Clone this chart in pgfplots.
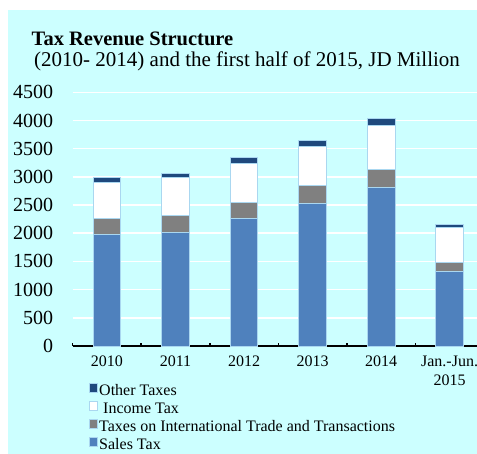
\documentclass[border=0pt]{standalone}
\usepackage{fontspec}
\setmainfont{Liberation Serif}
\usepackage{pgfplots}
\pgfplotsset{compat=1.18}

\definecolor{bgcyan}{RGB}{204,255,255}
\definecolor{salesblue}{RGB}{79,129,189}
\definecolor{tradegray}{RGB}{128,128,128}
\definecolor{otherblue}{RGB}{31,73,125}
\definecolor{baredge}{RGB}{170,215,240}

\begin{document}
\begin{tikzpicture}
  % page frame and background
  \useasboundingbox (0bp,0bp) rectangle (477bp,-454bp);
  \fill[white] (0bp,0bp) rectangle (477bp,-454bp);
  \fill[bgcyan] (8bp,-10bp) rectangle (477bp,-454bp);

  \node[anchor=base west, inner sep=0pt, font=\fontsize{20.5bp}{24bp}\selectfont\bfseries]
    at (31.5bp,-45bp) {Tax Revenue Structure};
  \node[anchor=base west, inner sep=0pt, font=\fontsize{21bp}{24bp}\selectfont]
    at (34bp,-66.5bp) {(2010- 2014) and the first half of 2015, JD Million};

  \begin{axis}[
      at={(72.7bp,-346bp)}, anchor=south west,
      scale only axis, clip=false,
      width=404.3bp, height=253.7bp,
      ybar stacked, bar width=27.7bp,
      xmin=-0.5, xmax=5.4,
      ymin=0, ymax=4500,
      ytick={0,500,...,4500},
      xtick={0,...,5},
      xticklabels={2010,2011,2012,2013,2014,{Jan.-Jun.\\2015}},
      minor xtick={-0.5,0.5,1.5,2.5,3.5,4.5},
      major tick length=0pt,
      minor tick length=3bp,
      minor x tick style={black, line width=1.5bp},
      ymajorgrids,
      major grid style={white, line width=1.5bp},
      axis x line*=bottom, axis y line*=left,
      separate axis lines,
      x axis line style={black, line width=2bp},
      y axis line style={draw=none},
      /pgf/number format/assume math mode=true,
      /pgf/number format/1000 sep={},
      yticklabel style={font=\fontsize{20bp}{24bp}\selectfont, anchor=east, inner sep=0pt, xshift=-19.4bp},
      xticklabel style={font=\fontsize{16bp}{19bp}\selectfont, align=center, anchor=north, inner sep=0pt, yshift=-10bp},
      legend style={at={(0.0386,-0.145)}, anchor=north west, draw=none, fill=none,
        font=\fontsize{16bp}{19bp}\selectfont, inner sep=0pt, row sep=2bp,
        nodes={inner sep=1.5bp, text height=11bp, text depth=2bp}},
      legend cell align=left,
      reverse legend,
      legend image code/.code={\fill[#1] (0bp,-1.2bp) rectangle (8.4bp,7.2bp);},
      every axis plot/.append style={draw=baredge, line width=0.8bp},
    ]
    \addplot[fill=salesblue] coordinates {(0,1980) (1,2015) (2,2258) (3,2523) (4,2807) (5,1324)};
    \addlegendentry{Sales Tax}
    \addplot[fill=tradegray] coordinates {(0,284) (1,295) (2,290) (3,326) (4,326) (5,165)};
    \addlegendentry{Taxes on International Trade and Transactions}
    \addplot[fill=white] coordinates {(0,631) (1,675) (2,691) (3,691) (4,773) (5,608)};
    \addlegendentry{\ Income Tax}
    \addplot[fill=otherblue] coordinates {(0,90) (1,71) (2,106) (3,107) (4,131) (5,54)};
    \addlegendentry{Other Taxes}
    \draw[black, line width=2bp] (axis cs:-0.5,0) -- (axis cs:5.4,0);
  \end{axis}
\end{tikzpicture}
\end{document}
